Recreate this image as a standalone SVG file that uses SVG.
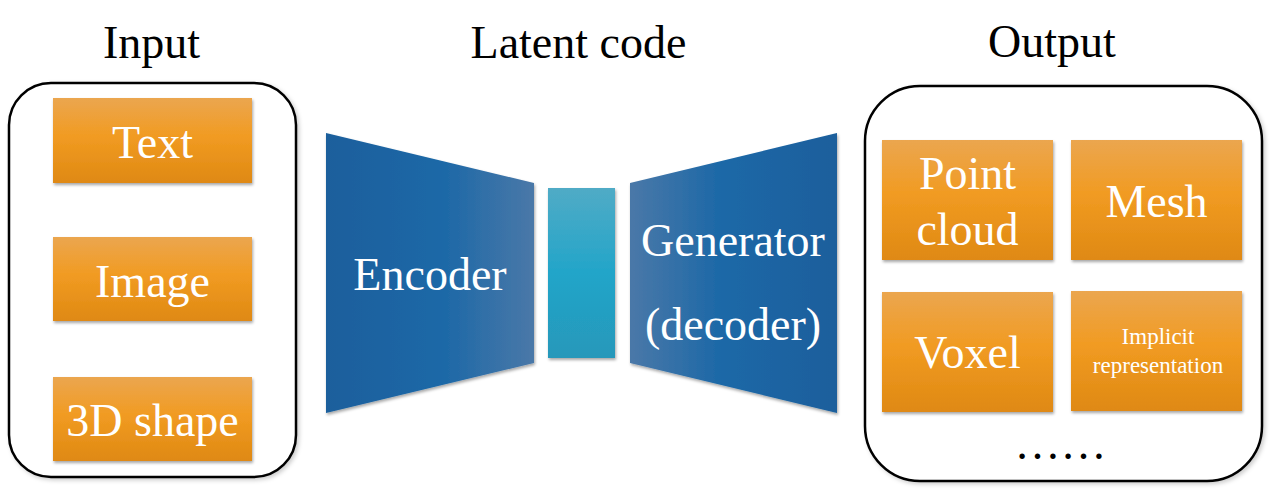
<svg xmlns="http://www.w3.org/2000/svg" width="1276" height="501" viewBox="0 0 1276 501">
<defs>
<linearGradient id="og" x1="0" y1="0" x2="0" y2="1">
<stop offset="0" stop-color="#eba64f"/>
<stop offset="0.45" stop-color="#f19b22"/>
<stop offset="1" stop-color="#df8913"/>
</linearGradient>
<linearGradient id="encg" x1="0" y1="0" x2="1" y2="0">
<stop offset="0" stop-color="#1a5f9c"/>
<stop offset="0.55" stop-color="#1b68a7"/>
<stop offset="1" stop-color="#4a78a8"/>
</linearGradient>
<linearGradient id="geng" x1="1" y1="0" x2="0" y2="0">
<stop offset="0" stop-color="#1a5f9c"/>
<stop offset="0.55" stop-color="#1b68a7"/>
<stop offset="1" stop-color="#4a78a8"/>
</linearGradient>
<linearGradient id="latg" x1="0" y1="0" x2="0" y2="1">
<stop offset="0" stop-color="#50abc6"/>
<stop offset="0.5" stop-color="#22a5c9"/>
<stop offset="1" stop-color="#2698ba"/>
</linearGradient>
<filter id="sh" x="-10%" y="-10%" width="130%" height="130%">
<feDropShadow dx="1" dy="2" stdDeviation="1.5" flood-color="#000" flood-opacity="0.35"/>
</filter>
<filter id="sh2" x="-5%" y="-5%" width="115%" height="115%">
<feDropShadow dx="2" dy="2" stdDeviation="2" flood-color="#000" flood-opacity="0.2"/>
</filter>
</defs>
<style>
.title{font-size:46px;fill:#000}
.w{font-size:46px;fill:#fff}
.s{font-size:23px;fill:#fff}
.box{fill:url(#og);filter:url(#sh)}
.frame{fill:#fff;stroke:#000;stroke-width:2.5;filter:url(#sh2)}
</style>
<rect width="1276" height="501" fill="#fff"/>
<g font-family="Liberation Serif, Times New Roman, serif" text-anchor="middle">
<g id="titles">
<text class="title" x="151.5" y="58">Input</text>
<text class="title" x="578.5" y="58">Latent code</text>
<text class="title" x="1052" y="57">Output</text>
</g>

<g id="input">
<rect class="frame" x="9" y="83" width="287" height="394" rx="42"/>
<g id="text-node"><rect class="box" x="53" y="98" width="199" height="85"/><text class="w" x="152.5" y="158">Text</text></g>
<g id="image-node"><rect class="box" x="53" y="237" width="199" height="84"/><text class="w" x="152.5" y="297">Image</text></g>
<g id="shape-node"><rect class="box" x="53" y="377" width="199" height="84"/><text class="w" x="152.5" y="436">3D shape</text></g>
</g>

<g id="encoder">
<polygon points="326,133 534,183 534,363 326,413" fill="url(#encg)" filter="url(#sh)"/>
<text class="w" x="430" y="290">Encoder</text>
</g>

<g id="latent">
<rect x="548" y="188" width="67" height="170" fill="url(#latg)" filter="url(#sh)"/>
</g>

<g id="generator">
<polygon points="630,183 837,133 837,413 630,363" fill="url(#geng)" filter="url(#sh)"/>
<text class="w" x="733" y="256">Generator</text>
<text class="w" x="733" y="340">(decoder)</text>
</g>

<g id="output">
<rect class="frame" x="865" y="86" width="397" height="395" rx="55"/>
<g id="pointcloud-node"><rect class="box" x="882" y="140" width="171" height="120"/><text class="w" x="967.5" y="189">Point</text><text class="w" x="967.5" y="245">cloud</text></g>
<g id="mesh-node"><rect class="box" x="1071" y="140" width="171" height="120"/><text class="w" x="1156.5" y="217">Mesh</text></g>
<g id="voxel-node"><rect class="box" x="882" y="292" width="171" height="120"/><text class="w" x="967.5" y="368">Voxel</text></g>
<g id="implicit-node"><rect class="box" x="1071" y="291" width="171" height="120"/><text class="s" x="1158" y="344">Implicit</text><text class="s" x="1158" y="373">representation</text></g>
<text class="title" x="1060.5" y="459">……</text>
</g>
</g>
<g id="connectors"></g>
</svg>
